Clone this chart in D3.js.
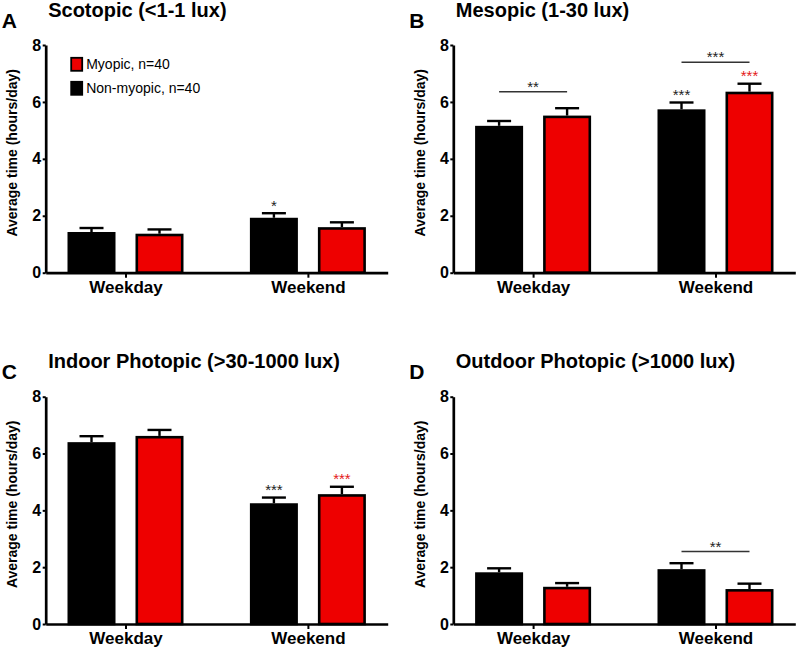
<!DOCTYPE html>
<html>
<head>
<meta charset="utf-8">
<script src="https://cdn.jsdelivr.net/npm/d3@7"></script>
<style>
  html, body { margin: 0; padding: 0; background: #fff; }
  svg { display: block; font-family: "Liberation Sans", Arial, Helvetica, sans-serif; }
</style>
</head>
<body>
<svg id="chart" width="797" height="649"></svg>
<script>
// ---------------- DATA ----------------
const categories = ["Weekday", "Weekend"];
const seriesNames = ["Non-myopic, n=40", "Myopic, n=40"];
const panelLetters = ["A", "B", "C", "D"];
const panelTitles = [
  "Scotopic (<1-1 lux)",
  "Mesopic (1-30 lux)",
  "Indoor Photopic (>30-1000 lux)",
  "Outdoor Photopic (>1000 lux)"
];
const yTicks = [0, 2, 4, 6, 8];
const yLabel = "Average time (hours/day)";

// means [Weekday, Weekend] per panel
const nonMyopicMean = [[1.43, 1.93], [5.16, 5.74], [6.40, 4.25], [1.82, 1.93]];
const nonMyopicSem  = [[0.14, 0.16], [0.17, 0.24], [0.21, 0.20], [0.14, 0.21]];
const myopicMean    = [[1.37, 1.60], [5.52, 6.36], [6.62, 4.57], [1.31, 1.23]];
const myopicSem     = [[0.15, 0.17], [0.26, 0.28], [0.21, 0.26], [0.13, 0.19]];
// significance stars above each bar (vs weekday)
const nonMyopicStars = [["", "*"], ["", "***"], ["", "***"], ["", ""]];
const myopicStars    = [["", ""], ["", "***"], ["", "***"], ["", ""]];
// between-group comparisons: [panel, category, level, label]
const comparisons = [
  [1, "Weekday", 6.36, "**"],
  [1, "Weekend", 7.39, "***"],
  [3, "Weekend", 2.55, "**"]
];

// ---------------- LAYOUT ----------------
const colors = { "Non-myopic, n=40": "#000000", "Myopic, n=40": "#ee0000" };
const starColors = { "Non-myopic, n=40": "#222222", "Myopic, n=40": "#e41a1a" };
const panelOrigins = [
  { ox: 45.7, top: 45.0, bot: 272.7 },
  { ox: 453.3, top: 45.0, bot: 272.7 },
  { ox: 45.7, top: 396.7, bot: 624.0 },
  { ox: 453.3, top: 396.7, bot: 624.0 }
];
const axisWidth = 342;
const svg = d3.select("#chart");

panelOrigins.forEach((p, i) => {
  const g = svg.append("g");
  const y = d3.scaleLinear().domain([0, 8]).range([p.bot, p.top]);
  const x0 = d3.scalePoint().domain(categories).range([p.ox, p.ox + axisWidth]).padding(0.4375);
  const x1 = d3.scaleBand().domain(seriesNames).range([-58, 58]).paddingInner(0.294).paddingOuter(0);

  // panel letter & title
  g.append("text").attr("x", p.ox - 44).attr("y", p.top - 17.5)
    .attr("font-size", 21).attr("font-weight", "bold").text(panelLetters[i]);
  g.append("text").attr("x", p.ox + 2.5).attr("y", p.top - 28.5)
    .attr("font-size", 20).attr("font-weight", "bold")
    .text(panelTitles[i]);

  // y label
  g.append("text")
    .attr("transform", `translate(${p.ox - 28.5},${(p.top + p.bot) / 2 - 6}) rotate(-90)`)
    .attr("text-anchor", "middle").attr("font-size", 14).attr("font-weight", "bold")
    .text(yLabel);

  // bars
  const meansAll = [nonMyopicMean[i], myopicMean[i]];
  const semAll = [nonMyopicSem[i], myopicSem[i]];
  const starsAll = [nonMyopicStars[i], myopicStars[i]];
  const rows = [];
  seriesNames.forEach((s, si) => {
    categories.forEach((c, ci) => {
      rows.push({ s, c, v: meansAll[si][ci], e: semAll[si][ci], star: starsAll[si][ci] });
    });
  });
  const sw = 2.6;
  const bx = d => x0(d.c) + x1(d.s);
  const cx = d => bx(d) + x1.bandwidth() / 2;

  // error bars (upper only)
  g.selectAll(".stem").data(rows).join("line")
    .attr("x1", cx).attr("x2", cx)
    .attr("y1", d => y(d.v)).attr("y2", d => y(d.v + d.e))
    .attr("stroke", "#000").attr("stroke-width", 2.4);
  g.selectAll(".cap").data(rows).join("line")
    .attr("x1", d => cx(d) - 12).attr("x2", d => cx(d) + 12)
    .attr("y1", d => y(d.v + d.e)).attr("y2", d => y(d.v + d.e))
    .attr("stroke", "#000").attr("stroke-width", 2.4);

  g.selectAll(".bar").data(rows).join("rect")
    .attr("x", d => bx(d) + sw / 2)
    .attr("width", x1.bandwidth() - sw)
    .attr("y", d => y(d.v) + sw / 2)
    .attr("height", d => y(0) - y(d.v) - sw / 2)
    .attr("fill", d => colors[d.s])
    .attr("stroke", "#000").attr("stroke-width", sw);

  // stars above bars
  g.selectAll(".star").data(rows.filter(d => d.star)).join("text")
    .attr("x", cx).attr("y", d => y(d.v + d.e) - 2.5)
    .attr("text-anchor", "middle").attr("font-size", 15)
    .attr("fill", d => starColors[d.s]).text(d => d.star);

  // comparisons
  comparisons.filter(c => c[0] === i).forEach(c => {
    const xa = x0(c[1]) + x1(seriesNames[0]) + x1.bandwidth() / 2;
    const xb = x0(c[1]) + x1(seriesNames[1]) + x1.bandwidth() / 2;
    g.append("line").attr("x1", xa).attr("x2", xb)
      .attr("y1", y(c[2])).attr("y2", y(c[2]))
      .attr("stroke", "#333").attr("stroke-width", 1.5);
    g.append("text").attr("x", (xa + xb) / 2).attr("y", y(c[2]))
      .attr("text-anchor", "middle").attr("font-size", 15).attr("fill", "#222")
      .text(c[3]);
  });

  // axes
  const yAxis = g.append("g").attr("transform", `translate(${p.ox},0)`)
    .call(d3.axisLeft(y).tickValues(yTicks).tickSize(3).tickSizeOuter(0).tickPadding(1.5).tickFormat(d3.format("d")));
  yAxis.select(".domain").attr("stroke-width", 2.7);
  yAxis.selectAll(".tick line").attr("stroke-width", 2);
  yAxis.selectAll("text").attr("font-size", 16).attr("font-weight", "bold").attr("font-family", null).attr("fill", "#000");

  const xAxis = g.append("g").attr("transform", `translate(0,${p.bot})`)
    .call(d3.axisBottom(x0).tickSize(5).tickSizeOuter(0).tickPadding(3));
  xAxis.select(".domain").attr("stroke-width", 2.7);
  xAxis.selectAll(".tick line").attr("stroke-width", 2);
  xAxis.selectAll("text").attr("font-size", 17).attr("font-weight", "bold").attr("font-family", null).attr("fill", "#000");

  // legend in panel A
  if (i === 0) {
    const legendOrder = ["Myopic, n=40", "Non-myopic, n=40"];
    const lg = g.append("g");
    legendOrder.forEach((s, li) => {
      lg.append("rect").attr("x", p.ox + 25.5).attr("y", p.top + 12.8 + li * 24)
        .attr("width", 11).attr("height", 13)
        .attr("fill", colors[s]).attr("stroke", "#000").attr("stroke-width", 1.8);
      lg.append("text").attr("x", p.ox + 40.5).attr("y", p.top + 24 + li * 24)
        .attr("font-size", 14).text(s);
    });
  }
});
</script>
</body>
</html>
